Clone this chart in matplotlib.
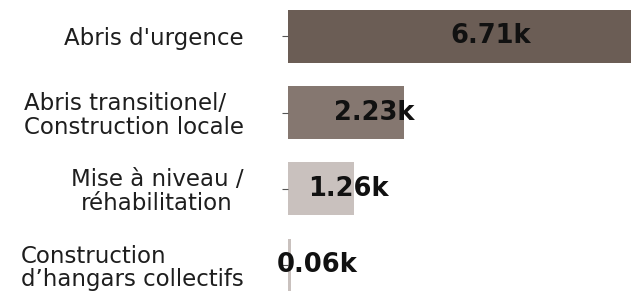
import matplotlib
matplotlib.use("Agg")
import matplotlib.pyplot as plt

categories = ["Abris d'urgence",
              "Abris transitionel/\nConstruction locale",
              "Mise à niveau /\nréhabilitation",
              "Construction\nd\u2019hangars collectifs"]
values = [6.71, 2.23, 1.26, 0.06]
value_labels = ["6.71k", "2.23k", "1.26k", "0.06k"]
colors = ["#6b5d55", "#857770", "#c9c1be", "#c9c1be"]
aligns = ["right", "left", "center", "left"]

W, H, DPI = 631, 291, 100
fig = plt.figure(figsize=(W / DPI, H / DPI), dpi=DPI)
ax = fig.add_axes([288 / W, 0, 1 - 288 / W, 1])

ypos = list(range(len(categories)))
ax.barh(ypos, values, height=0.695, color=colors)
ax.set_xlim(0, (W - 288) / 52.0)
ax.set_ylim(3.34, -0.478)

for y, v, lab in zip(ypos, values, value_labels):
    ax.annotate(lab, xy=(v / 2, y), xytext=(20, 0), textcoords="offset points",
                ha="center", va="center", fontsize=18.5, fontweight="bold",
                color="#111111", family="DejaVu Sans", annotation_clip=False)

ax.set_yticks(ypos)
ax.set_yticklabels(categories, fontsize=16.5, color="#1e1e1e", linespacing=1.02)
for t, a in zip(ax.get_yticklabels(), aligns):
    t.set_multialignment(a)
ax.get_yticklabels()[-1].set_y(2.97)
ax.tick_params(axis="y", length=4, width=0.8, color="#555555", pad=28)
ax.set_xticks([])
for s in ax.spines.values():
    s.set_visible(False)

fig.savefig("out.png", dpi=DPI)
